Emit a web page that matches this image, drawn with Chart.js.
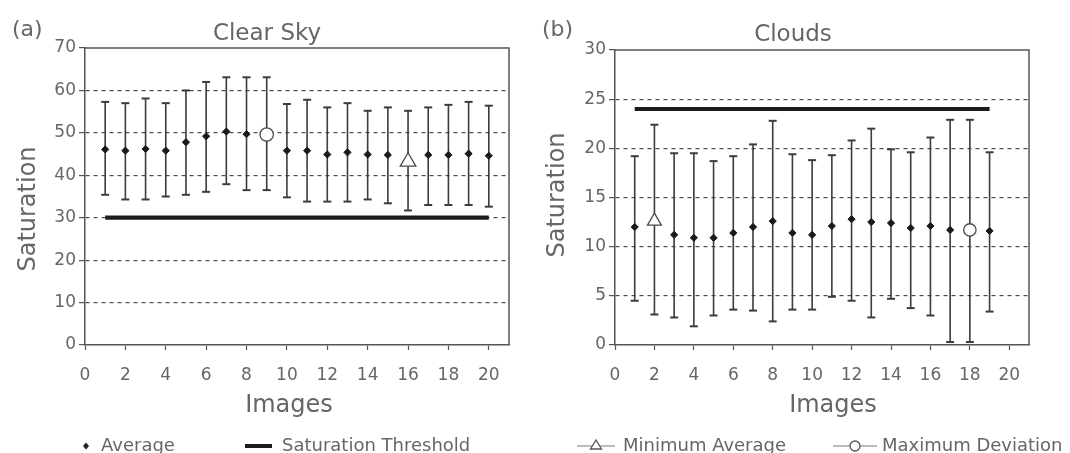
<!DOCTYPE html>
<html><head><meta charset="utf-8">
<script src="https://cdn.jsdelivr.net/npm/chart.js@4.4.1/dist/chart.umd.min.js"></script>
<style>
html,body{margin:0;padding:0;background:#fff;overflow:hidden}
#wrap{position:relative;width:1070px;height:453px;background:#fff}
.c{position:absolute;top:0;width:535px;height:453px}
#left{left:0}#right{left:535px}
</style></head><body>
<div id="wrap">
<div class="c" id="left"><canvas id="cl" width="535" height="453"></canvas></div>
<div class="c" id="right"><canvas id="cr" width="535" height="453"></canvas></div>
</div>
<script>
// ---------- DATA ----------
const clearImages = [1,2,3,4,5,6,7,8,9,10,11,12,13,14,15,16,17,18,19,20];
const clearAvg  = [46.1,45.8,46.2,45.8,47.8,49.2,50.3,49.7,49.6,45.8,45.8,44.9,45.4,44.9,44.8,43.2,44.8,44.8,45.1,44.6];
const clearHigh = [57.3,57.0,58.1,57.0,60.0,62.0,63.1,63.1,63.1,56.8,57.8,56.0,57.0,55.2,56.0,55.2,56.0,56.6,57.3,56.4];
const clearLow  = [35.4,34.3,34.3,35.0,35.4,36.1,37.9,36.5,36.5,34.8,33.8,33.8,33.8,34.3,33.4,31.7,33.0,33.0,33.0,32.6];
const clearThreshold = 30;
const clearMinAvgImage = 16;
const clearMaxDevImage = 9;

const cloudImages = [1,2,3,4,5,6,7,8,9,10,11,12,13,14,15,16,17,18,19];
const cloudAvg  = [12.0,12.6,11.2,10.9,10.9,11.4,12.0,12.6,11.4,11.2,12.1,12.8,12.5,12.4,11.9,12.1,11.7,11.7,11.6];
const cloudHigh = [19.2,22.4,19.5,19.5,18.7,19.2,20.4,22.8,19.4,18.8,19.3,20.8,22.0,19.9,19.6,21.1,22.9,22.9,19.6];
const cloudLow  = [4.5,3.1,2.8,1.9,3.0,3.6,3.5,2.4,3.6,3.6,4.9,4.5,2.8,4.7,3.75,3.0,0.3,0.3,3.4];
const cloudThreshold = 24;
const cloudMinAvgImage = 2;
const cloudMaxDevImage = 18;

const xTickLabels = [0,2,4,6,8,10,12,14,16,18,20];
const clearYTicks = [0,10,20,30,40,50,60,70];
const cloudYTicks = [0,5,10,15,20,25,30];

const legendLabels = ['Average','Saturation Threshold','Minimum Average','Maximum Deviation'];

// ---------- STYLE ----------
const TXT = '#666';
const AX = '#555';
const BAR = '#3c3c3c';
const FONT = '"DejaVu Sans", sans-serif';

function drawIcon(ctx, kind, x1, x2, y) {
  ctx.save();
  const cx = (x1 + x2) / 2;
  if (kind === 'diamond') {
    ctx.fillStyle = '#222';
    ctx.beginPath(); ctx.moveTo(cx, y-3.5); ctx.lineTo(cx+3, y); ctx.lineTo(cx, y+3.5); ctx.lineTo(cx-3, y); ctx.closePath(); ctx.fill();
  } else if (kind === 'bar') {
    ctx.strokeStyle = '#1c1c1c'; ctx.lineWidth = 4;
    ctx.beginPath(); ctx.moveTo(x1, y); ctx.lineTo(x2, y); ctx.stroke();
  } else {
    ctx.strokeStyle = '#777'; ctx.lineWidth = 1.2;
    ctx.beginPath(); ctx.moveTo(x1, y); ctx.lineTo(x2, y); ctx.stroke();
    ctx.fillStyle = '#fff'; ctx.strokeStyle = '#555'; ctx.lineWidth = 1.3;
    ctx.beginPath();
    if (kind === 'triangle') {
      ctx.moveTo(cx, y-6); ctx.lineTo(cx+5.5, y+3); ctx.lineTo(cx-5.5, y+3); ctx.closePath();
    } else {
      ctx.arc(cx, y, 5, 0, Math.PI*2);
    }
    ctx.fill(); ctx.stroke();
  }
  ctx.restore();
}

const annot = {
  id: 'annot',
  afterDraw(chart, args, o) {
    const {ctx, chartArea: a} = chart;
    ctx.save();
    ctx.strokeStyle = AX; ctx.lineWidth = 1.5;
    ctx.beginPath(); ctx.moveTo(a.left, a.top); ctx.lineTo(a.right, a.top); ctx.lineTo(a.right, a.bottom); ctx.stroke();
    ctx.fillStyle = TXT; ctx.textBaseline = 'alphabetic';
    ctx.font = '22px ' + FONT; ctx.textAlign = 'left';
    ctx.fillText(o.panel, o.panelX, 36);
    ctx.font = '23px ' + FONT; ctx.textAlign = 'center';
    ctx.fillText(o.title, o.titleX, o.titleY);
    ctx.font = '24px ' + FONT;
    ctx.fillText(o.xTitle, o.xTitleX, 412);
    ctx.save(); ctx.translate(o.yTitleX, o.yTitleY); ctx.rotate(-Math.PI/2);
    ctx.fillText(o.yTitle, 0, 0); ctx.restore();
    ctx.font = '18px ' + FONT; ctx.textAlign = 'left';
    o.legend.forEach(it => {
      drawIcon(ctx, it.kind, it.x1, it.x2, 446);
      ctx.fillStyle = TXT;
      ctx.fillText(it.text, it.tx, 451);
    });
    ctx.restore();
  }
};

function makeChart(id, xs, avg, hi, lo, thr, minImg, maxImg, yTicks, lay, texts) {
  const idx = v => xs.indexOf(v);
  const bars = xs.flatMap((x, i) => [{x, y: lo[i]}, {x, y: hi[i]}, {x, y: null}]);
  const caps = xs.flatMap((x, i) => [{x, y: lo[i]}, {x, y: hi[i]}]);
  const avgPts = xs.map((x, i) => ({x, y: (x === minImg || x === maxImg) ? null : avg[i]}));
  const yMax = yTicks[yTicks.length - 1];
  return new Chart(document.getElementById(id), {
    type: 'scatter',
    data: {
      datasets: [
        {label: 'min', data: [{x: minImg, y: avg[idx(minImg)]}], pointStyle: 'triangle', pointRadius: lay.tri,
         backgroundColor: '#fff', borderColor: '#4a4a4a', borderWidth: 1.3, order: 0},
        {label: 'maxdev', data: [{x: maxImg, y: avg[idx(maxImg)]}], pointStyle: 'circle', pointRadius: lay.circ,
         backgroundColor: '#fff', borderColor: '#4a4a4a', borderWidth: 1.3, order: 0},
        {label: 'avg', data: avgPts, pointStyle: 'rectRot', pointRadius: 3.6,
         backgroundColor: '#1a1a1a', borderColor: '#1a1a1a', borderWidth: 1, order: 1},
        {label: 'thr', data: [{x: xs[0], y: thr}, {x: xs[xs.length-1], y: thr}], showLine: true,
         borderColor: '#1c1c1c', borderWidth: 4.2, pointRadius: 0, order: 2},
        {label: 'caps', data: caps, pointStyle: 'line', pointRadius: 4, borderColor: BAR, borderWidth: 2, order: 3},
        {label: 'bars', data: bars, showLine: true, spanGaps: false, pointRadius: 0,
         borderColor: BAR, borderWidth: 1.6, order: 4}
      ]
    },
    options: {
      responsive: false, animation: false, devicePixelRatio: 1, events: [],
      layout: {padding: {top: lay.top, right: lay.right, left: 0, bottom: 0}},
      plugins: {legend: {display: false}, tooltip: {enabled: false}, annot: texts},
      scales: {
        x: {
          type: 'linear', min: 0, max: 21,
          afterBuildTicks: s => { s.ticks = xTickLabels.map(v => ({value: v})); },
          afterFit: s => { s.height = 453 - lay.bottomY; },
          ticks: {color: TXT, font: {family: FONT, size: 17}, padding: 15, maxRotation: 0, autoSkip: false},
          grid: {drawOnChartArea: false, drawTicks: true, tickLength: 5, tickColor: AX, tickWidth: 1.2},
          border: {color: AX, width: 1.5}
        },
        y: {
          type: 'linear', min: 0, max: yMax,
          afterBuildTicks: s => { s.ticks = yTicks.map(v => ({value: v})); },
          afterFit: s => { s.width = lay.left; },
          ticks: {color: TXT, font: {family: FONT, size: 17}, padding: 3},
          grid: {color: c => (c.tick && (c.tick.value === 0 || c.tick.value === yMax)) ? 'rgba(0,0,0,0)' : '#4a4a4a',
                 lineWidth: 1.2, drawTicks: true, tickLength: 6, tickColor: AX, tickWidth: 1.2},
          border: {color: AX, width: 1.5, dash: [4, 4]}
        }
      }
    },
    plugins: [annot]
  });
}

makeChart('cl', clearImages, clearAvg, clearHigh, clearLow, clearThreshold, clearMinAvgImage, clearMaxDevImage, clearYTicks,
  {top: 48, right: 26, left: 85, bottomY: 345, tri: 9, circ: 6.7},
  {panel: '(a)', panelX: 12, title: 'Clear Sky', titleX: 267, titleY: 39.5, xTitle: 'Images', xTitleX: 289,
   yTitle: 'Saturation', yTitleX: 35, yTitleY: 209,
   legend: [{kind: 'diamond', x1: 82, x2: 90, text: legendLabels[0], tx: 101},
            {kind: 'bar', x1: 245, x2: 272, text: legendLabels[1], tx: 282}]});

makeChart('cr', cloudImages, cloudAvg, cloudHigh, cloudLow, cloudThreshold, cloudMinAvgImage, cloudMaxDevImage, cloudYTicks,
  {top: 50, right: 41, left: 80, bottomY: 345, tri: 8, circ: 6.2},
  {panel: '(b)', panelX: 7, title: 'Clouds', titleX: 258, titleY: 40.5, xTitle: 'Images', xTitleX: 298,
   yTitle: 'Saturation', yTitleX: 29, yTitleY: 195,
   legend: [{kind: 'triangle', x1: 42, x2: 80, text: legendLabels[2], tx: 88},
            {kind: 'circle', x1: 298, x2: 342, text: legendLabels[3], tx: 347}]});
</script>
</body></html>
